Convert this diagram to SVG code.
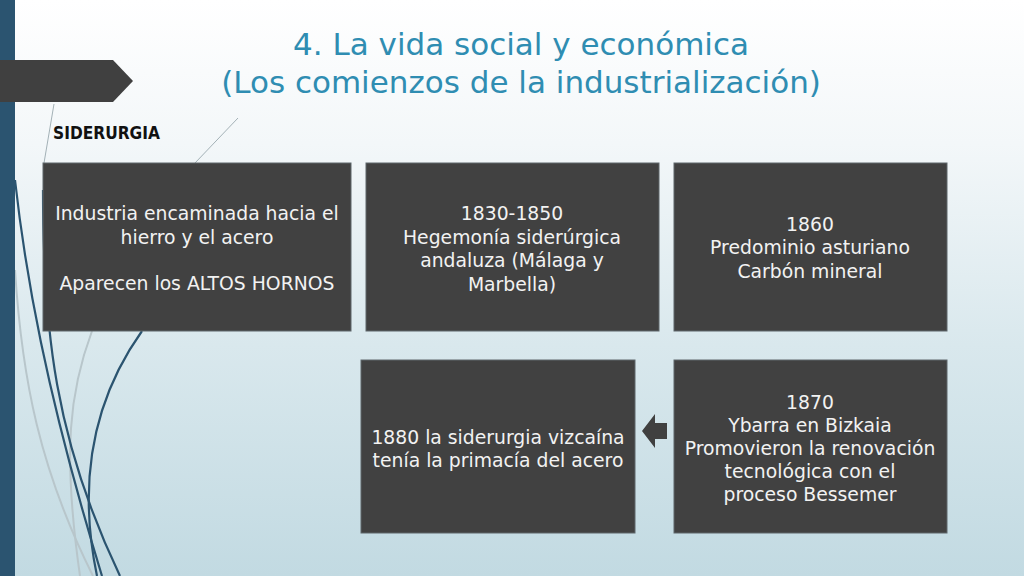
<svg xmlns="http://www.w3.org/2000/svg" width="1024" height="576" viewBox="0 0 1024 576">
  <defs>
    <linearGradient id="bg" x1="0" y1="0" x2="0" y2="1">
      <stop offset="0" stop-color="#ffffff"/>
      <stop offset="0.25" stop-color="#f3f7f9"/>
      <stop offset="0.6" stop-color="#d9e8ed"/>
      <stop offset="1" stop-color="#c2dae2"/>
    </linearGradient>
    <style>
      .box { fill: #414141; stroke: #5e676b; stroke-width: 1; }
      .t { font-family: "DejaVu Sans", "Liberation Sans", sans-serif; font-size: 18.8px; fill: #f2f2f2; text-anchor: middle; }
      .title { font-family: "DejaVu Sans", "Liberation Sans", sans-serif; font-size: 31px; fill: #2f8db2; text-anchor: middle; }
      .dark { fill: none; stroke: #2b5470; stroke-width: 2.2; }
      .light { fill: none; stroke: #b8c6cb; stroke-width: 2; }
      .thin { fill: none; stroke: #8e9ea5; stroke-width: 0.8; }
    </style>
  </defs>

  <rect x="0" y="0" width="1024" height="576" fill="url(#bg)"/>

  <!-- decorative curves -->
  <g id="decor">
    <path class="light" d="M15,270 C22,380 40,470 93,576"/>
    <path class="light" d="M92,331 C70,390 62,450 80,576"/>
    <path class="thin" d="M238,118 L195,163"/>
    <path class="thin" d="M54,104 L44,163"/>
    <path class="dark" d="M15,180 C25,270 45,390 102,576"/>
    <path class="dark" d="M43,190 C43,330 55,440 120,576"/>
    <path class="dark" d="M142,331 C100,390 75,470 97,576"/>
  </g>

  <rect id="leftbar" x="0" y="0" width="15" height="576" fill="#2b5470"/>
  <polygon id="chevron" points="0,60 113,60 133,81 113,102 0,102" fill="#404040"/>

  <text class="title" x="521" y="55">4. La vida social y económica</text>
  <text class="title" x="521" y="93">(Los comienzos de la industrialización)</text>

  <text x="53" y="139" font-family="DejaVu Sans, Liberation Sans, sans-serif" font-size="17.5" font-weight="bold" fill="#111111" textLength="107" lengthAdjust="spacingAndGlyphs">SIDERURGIA</text>

  <g id="node1">
    <rect class="box" x="43" y="163" width="308" height="168"/>
    <text class="t" x="197" y="220">Industria encaminada hacia el</text>
    <text class="t" x="197" y="244">hierro y el acero</text>
    <text class="t" x="197" y="290">Aparecen los ALTOS HORNOS</text>
  </g>

  <g id="node2">
    <rect class="box" x="366" y="163" width="293" height="168"/>
    <text class="t" x="512" y="220">1830-1850</text>
    <text class="t" x="512" y="244">Hegemonía siderúrgica</text>
    <text class="t" x="512" y="267">andaluza (Málaga y</text>
    <text class="t" x="512" y="291">Marbella)</text>
  </g>

  <g id="node3">
    <rect class="box" x="674" y="163" width="273" height="168"/>
    <text class="t" x="810" y="231">1860</text>
    <text class="t" x="810" y="254">Predominio asturiano</text>
    <text class="t" x="810" y="278">Carbón mineral</text>
  </g>

  <g id="node4">
    <rect class="box" x="361" y="360" width="274" height="173"/>
    <text class="t" x="498" y="444">1880 la siderurgia vizcaína</text>
    <text class="t" x="498" y="467">tenía la primacía del acero</text>
  </g>

  <g id="node5">
    <rect class="box" x="674" y="360" width="273" height="173"/>
    <text class="t" x="810" y="409">1870</text>
    <text class="t" x="810" y="432">Ybarra en Bizkaia</text>
    <text class="t" x="810" y="455">Promovieron la renovación</text>
    <text class="t" x="810" y="478">tecnológica con el</text>
    <text class="t" x="810" y="501">proceso Bessemer</text>
  </g>

  <g id="connectors">
    <polygon points="642,431 655,414 655,423 667,423 667,439 655,439 655,448" fill="#404040"/>
  </g>
</svg>
